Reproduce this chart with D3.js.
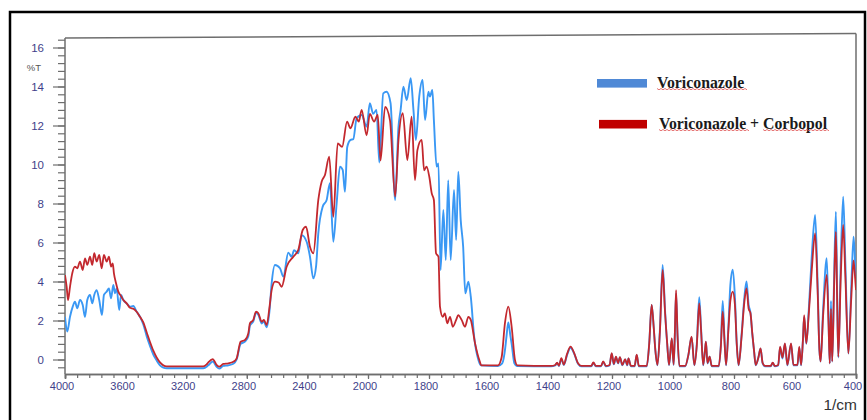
<!DOCTYPE html>
<html><head><meta charset="utf-8">
<script src="https://cdn.jsdelivr.net/npm/d3@7"></script>
<style>html,body{margin:0;padding:0;background:#fff;overflow:hidden}</style>
</head><body><svg id="c" width="867" height="420"></svg>
<script>
// ---- data ----
const seriesNames = ["Voriconazole", "Voriconazole + Corbopol"];
const xTickLabels = [4000,3600,3200,2800,2400,2000,1800,1600,1400,1200,1000,800,600,400];
const yTickLabels = [0,2,4,6,8,10,12,14,16];
const xAxisTitle = "1/cm";
const yAxisTitle = "%T";

// Voriconazole : [wavenumber, %T]
const voriconazole = [
[4000,2.19],[3985,1.43],[3967,2.19],[3949,2.71],[3934,2.96],[3919,2.63],[3901,3.05],[3883,2.79],
[3868,2.19],[3853,3.05],[3835,3.31],[3820,2.88],[3807,3.31],[3791,3.56],[3774,3.05],[3756,2.28],
[3743,3.31],[3725,3.48],[3710,3.65],[3696,3.14],[3681,3.82],[3670,3.39],[3659,3.65],[3642,2.54],
[3630,3.31],[3615,3.05],[3593,2.88],[3571,2.71],[3549,2.74],[3527,2.45],[3505,2.19],[3483,1.8],
[3461,1.2],[3439,0.7],[3417,0.25],[3395,-0.05],[3373,-0.3],[3351,-0.42],[3329,-0.45],[3200,-0.45],
[3087,-0.45],[3054,-0.3],[3025,-0.1],[2999,-0.38],[2982,-0.47],[2955,-0.33],[2922,-0.3],[2889,-0.22],
[2867,0.0],[2841,0.8],[2812,0.92],[2790,1.2],[2779,1.75],[2757,1.95],[2739,2.4],[2724,2.3],
[2702,1.85],[2687,1.95],[2669,1.65],[2650,2.5],[2636,3.9],[2614,4.85],[2581,4.68],[2559,4.25],
[2526,5.48],[2504,5.27],[2488,5.6],[2460,5.44],[2438,6.38],[2405,6.04],[2383,5.27],[2361,4.16],
[2343,4.76],[2328,6.47],[2299,7.84],[2273,8.18],[2251,9.04],[2229,6.04],[2207,8.0],[2185,9.89],
[2167,9.72],[2152,8.6],[2137,10.9],[2115,11.26],[2097,11.3],[2075,12.37],[2042,12.54],[2009,11.94],
[1994,13.14],[1983,12.6],[1972,12.8],[1963,10.1],[1950,13.65],[1939,13.73],[1926,13.14],[1911,8.18],
[1900,11.94],[1893,12.8],[1884,13.99],[1873,13.3],[1860,14.42],[1851,12.8],[1843,11.26],[1832,13.48],
[1821,14.33],[1813,12.28],[1802,13.73],[1797,13.48],[1789,13.82],[1784,12.28],[1775,9.89],[1769,10.06],
[1762,4.59],[1753,7.67],[1745,5.1],[1737,9.2],[1729,5.1],[1718,8.69],[1711,6.13],[1704,9.63],
[1696,7.15],[1688,5.78],[1681,3.39],[1671,3.99],[1663,3.22],[1652,1.17],[1638,-0.03],[1630,-0.3],
[1574,-0.33],[1560,-0.2],[1550,0.6],[1546,1.17],[1540,1.9],[1533,1.2],[1529,0.8],[1520,-0.2],[1512,-0.33],
[1400,-0.35],[1386,-0.3],[1380,-0.18],[1374,-0.33],[1366,0.02],[1358,-0.28],[1347,0.25],[1336,0.6],
[1324,0.3],[1312,-0.2],[1300,-0.35],[1268,-0.35],[1261,-0.18],[1253,-0.35],[1236,-0.35],[1229,-0.12],
[1220,-0.35],[1208,-0.3],[1201,0.3],[1194,-0.25],[1187,0.12],[1180,-0.2],[1174,0.1],[1166,-0.3],
[1157,0.0],[1150,-0.3],[1146,0.05],[1138,-0.35],[1126,-0.35],[1119,0.22],[1112,-0.35],[1086,-0.35],
[1078,0.8],[1070,2.8],[1063,1.6],[1058,0.5],[1051,-0.3],[1043,1.5],[1034,4.85],[1026,2.5],
[1023,1.68],[1019,0.8],[1013,-0.3],[1004,1.05],[998,-0.28],[994,1.2],[990,3.4],[985,1.2],
[979,-0.35],[960,-0.35],[950,0.2],[939,1.15],[930,-0.3],[922,0.8],[914,3.2],[908,1.6],
[901,-0.3],[895,0.5],[892,0.9],[887,-0.2],[880,0.15],[873,-0.35],[850,-0.35],[843,0.8],
[837,3.0],[831,1.0],[826,-0.3],[818,1.8],[812,3.8],[804,4.6],[797,3.2],[791,0.8],
[785,-0.3],[775,1.3],[767,3.0],[759,4.0],[752,2.8],[746,2.4],[740,1.3],[734,0.4],
[729,-0.3],[720,0.1],[713,0.55],[706,-0.2],[698,-0.35],[680,-0.35],[673,-0.18],[666,-0.35],
[655,-0.3],[649,0.6],[641,0.05],[633,0.8],[625,-0.3],[613,0.8],[605,-0.3],[592,-0.3],
[586,0.6],[580,-0.3],[574,1.0],[570,2.2],[563,0.8],[555,2.5],[545,5.3],[534,7.41],
[526,4.0],[520,0.5],[516,-0.1],[508,2.5],[496,5.19],[490,2.0],[486,-0.2],[482,3.0],
[478,-0.1],[472,4.0],[466,7.58],[462,3.5],[458,0.1],[450,5.0],[442,8.35],[435,5.0],
[425,0.3],[416,3.5],[408,6.3],[403,5.0],[400,4.1]
];

// Voriconazole + Corbopol : [wavenumber, %T]
const voriconazoleCorbopol = [
[4000,4.33],[3989,3.73],[3980,3.05],[3967,3.73],[3952,4.42],[3934,4.76],[3919,4.68],[3901,5.02],
[3883,4.59],[3868,5.19],[3853,4.85],[3835,5.27],[3820,4.85],[3807,5.45],[3791,5.02],[3774,5.36],
[3758,4.68],[3743,5.36],[3725,5.02],[3710,5.27],[3696,4.76],[3685,4.93],[3677,4.42],[3663,3.91],
[3648,3.48],[3630,3.25],[3615,3.05],[3593,2.88],[3571,2.65],[3549,2.6],[3527,2.45],[3505,2.19],
[3483,1.9],[3461,1.4],[3439,0.9],[3417,0.45],[3395,0.1],[3373,-0.15],[3351,-0.3],[3329,-0.35],
[3087,-0.35],[3065,-0.25],[3054,-0.15],[3025,0.02],[2999,-0.28],[2982,-0.37],[2955,-0.23],[2922,-0.2],
[2889,-0.12],[2867,0.06],[2841,0.91],[2812,1.0],[2790,1.34],[2779,1.86],[2757,2.03],[2739,2.45],
[2724,2.37],[2702,1.94],[2687,2.03],[2669,1.77],[2650,2.7],[2636,3.56],[2614,3.99],[2590,3.95],
[2570,3.73],[2537,4.76],[2493,5.27],[2460,5.62],[2431,6.64],[2409,6.81],[2383,5.78],[2361,5.44],
[2328,8.18],[2306,9.12],[2284,9.46],[2256,10.4],[2229,7.32],[2200,11.08],[2171,10.9],[2138,12.2],
[2116,11.86],[2083,12.45],[2061,12.2],[2042,12.8],[2009,11.5],[1994,12.6],[1980,12.2],[1968,12.54],
[1959,10.2],[1944,12.96],[1928,12.28],[1911,8.35],[1900,11.26],[1886,12.63],[1871,10.23],[1857,12.45],
[1846,9.2],[1838,10.74],[1824,11.26],[1816,9.7],[1808,9.89],[1799,9.37],[1791,8.52],[1784,8.18],
[1777,5.45],[1769,5.27],[1764,2.71],[1755,2.19],[1748,2.37],[1740,1.86],[1731,2.19],[1722,1.68],
[1711,2.03],[1704,2.28],[1693,2.03],[1682,1.68],[1671,2.19],[1663,2.03],[1649,0.83],[1635,-0.03],
[1628,-0.3],[1574,-0.3],[1562,0.1],[1551,1.86],[1540,2.71],[1529,1.68],[1518,-0.03],[1510,-0.3],
[1400,-0.33],[1386,-0.28],[1380,-0.16],[1374,-0.31],[1366,0.07],[1358,-0.26],[1347,0.3],[1336,0.66],
[1324,0.33],[1312,-0.18],[1300,-0.33],[1268,-0.33],[1261,-0.15],[1253,-0.33],[1236,-0.33],[1229,-0.1],
[1220,-0.33],[1208,-0.28],[1201,0.32],[1194,-0.22],[1187,0.14],[1180,-0.18],[1174,0.12],[1166,-0.28],
[1157,0.02],[1150,-0.28],[1146,0.06],[1138,-0.33],[1126,-0.33],[1119,0.25],[1112,-0.33],[1086,-0.33],
[1078,0.8],[1070,2.8],[1063,1.6],[1058,0.5],[1051,-0.28],[1043,1.4],[1034,4.6],[1026,2.4],
[1023,1.68],[1019,0.8],[1013,-0.28],[1004,1.1],[998,-0.26],[994,1.3],[990,3.56],[985,1.2],
[979,-0.33],[960,-0.33],[950,0.2],[939,1.17],[930,-0.28],[922,0.7],[914,2.88],[908,1.5],
[901,-0.28],[895,0.5],[892,0.91],[887,-0.18],[880,0.14],[873,-0.33],[850,-0.33],[843,0.7],
[837,2.45],[831,0.9],[826,-0.28],[818,1.6],[812,3.0],[804,3.48],[797,2.8],[791,0.8],
[785,-0.28],[775,1.2],[767,2.8],[759,3.64],[752,2.6],[746,2.37],[740,1.34],[734,0.4],
[729,-0.28],[720,0.1],[713,0.57],[706,-0.18],[698,-0.33],[680,-0.33],[673,-0.16],[666,-0.33],
[655,-0.28],[649,0.66],[641,0.1],[633,0.83],[625,-0.28],[613,0.83],[605,-0.28],[592,-0.28],
[586,0.66],[580,-0.28],[574,1.0],[570,2.28],[563,0.83],[555,2.3],[545,4.6],[534,6.47],
[526,3.6],[520,0.5],[516,-0.1],[508,2.2],[496,4.34],[490,1.8],[486,-0.2],[482,2.6],
[478,-0.1],[472,3.6],[466,6.55],[462,3.2],[458,0.14],[450,4.2],[442,6.9],[435,4.3],
[425,0.32],[416,3.0],[408,5.08],[403,4.2],[400,3.56]
];

// ---- drawing ----
const svg = d3.select("#c");
svg.append("rect").attr("width",867).attr("height",420).attr("fill","#fff");

// outer frame
svg.append("path").attr("d","M10,430 L10,12 L865,12 L865,430")
  .attr("fill","none").attr("stroke","#000").attr("stroke-width",2.5);

const x = d3.scaleLinear().domain([4000,2000,400]).range([65,368,856]);
const y = d3.scaleLinear().domain([0,16]).range([359.5,47.5]);
const yBottom = 374, xLeft = 65, xRight = 856;

const axisColor = "#6e6e6e", labelColor = "#3f3f8a";

// plot borders
svg.append("line").attr("x1",xLeft).attr("y1",38).attr("x2",xRight).attr("y2",33.5)
  .attr("stroke",axisColor).attr("stroke-width",1.5);
svg.append("line").attr("x1",xRight).attr("y1",33.5).attr("x2",xRight).attr("y2",yBottom)
  .attr("stroke",axisColor).attr("stroke-width",1.5);

// x axis
const xMinor = d3.range(4000,2000,-80).concat(d3.range(2000,399,-40));
const gxm = svg.append("g").attr("transform",`translate(0,${yBottom})`)
  .call(d3.axisBottom(x).tickValues(xMinor).tickSize(4).tickFormat(""));
const gx = svg.append("g").attr("transform",`translate(0,${yBottom})`)
  .call(d3.axisBottom(x).tickValues(xTickLabels).tickSize(5).tickPadding(3).tickFormat(d3.format("d")));
[gxm,gx].forEach(g=>{
  g.select(".domain").attr("stroke",axisColor).attr("stroke-width",1.5);
  g.selectAll(".tick line").attr("stroke",axisColor).attr("stroke-width",1.2);
});
gx.selectAll(".tick text").attr("fill",labelColor).attr("dx",-3.5)
  .style("font-family","'Liberation Sans', Arial, sans-serif").style("font-size","11px");

// y axis
const yMinor = d3.range(-0.4,16.5,0.4);
const gym = svg.append("g").attr("transform",`translate(${xLeft},0)`)
  .call(d3.axisLeft(y).tickValues(yMinor).tickSize(7).tickFormat(""));
const gy = svg.append("g").attr("transform",`translate(${xLeft},0)`)
  .call(d3.axisLeft(y).tickValues(yTickLabels).tickSize(12).tickPadding(9).tickFormat(d3.format("d")));
[gym,gy].forEach(g=>{
  g.select(".domain").remove();
  g.selectAll(".tick line").attr("stroke",axisColor).attr("stroke-width",1.2);
});
gy.selectAll(".tick text").attr("fill",labelColor)
  .style("font-family","'Liberation Sans', Arial, sans-serif").style("font-size","11.5px");
svg.append("line").attr("x1",xLeft).attr("x2",xLeft).attr("y1",38).attr("y2",yBottom)
  .attr("stroke",axisColor).attr("stroke-width",1.5);

// axis titles
svg.append("text").attr("x",41).attr("y",70.5).attr("text-anchor","end")
  .attr("fill","#555").style("font-family","'Liberation Sans', Arial, sans-serif")
  .style("font-size","9.5px").text(yAxisTitle);
svg.append("text").attr("x",857).attr("y",410).attr("text-anchor","end")
  .attr("fill","#333").style("font-family","'Liberation Sans', Arial, sans-serif")
  .style("font-size","15.5px").text(xAxisTitle);

// clip
svg.append("clipPath").attr("id","clip").append("rect")
  .attr("x",xLeft).attr("y",34).attr("width",xRight-xLeft).attr("height",yBottom-34);

const line = d3.line().x(d=>x(d[0])).y(d=>y(d[1])).curve(d3.curveMonotoneX);
const plot = svg.append("g").attr("clip-path","url(#clip)");
plot.append("path").datum(voriconazole).attr("d",line)
  .attr("fill","none").attr("stroke","#3a98f4").attr("stroke-width",1.9).attr("stroke-linejoin","round");
plot.append("path").datum(voriconazoleCorbopol).attr("d",line)
  .attr("fill","none").attr("stroke","#c3282e").attr("stroke-width",1.8).attr("stroke-linejoin","round");

// legend
const legendColors = ["#4f89d6","#c00000"];
const legendY = [83.3, 124.2];
const legendX0 = [597, 599];
const textX = [657, 659];
seriesNames.forEach((name,i)=>{
  svg.append("rect").attr("x",legendX0[i]).attr("y",legendY[i]-4.3)
    .attr("width",647-legendX0[i]).attr("height",8.6).attr("fill",legendColors[i]);
  svg.append("text").attr("x",textX[i]).attr("y",legendY[i]+4.5)
    .attr("fill","#1a1a1a").style("font-family","'Liberation Serif','Times New Roman',serif")
    .style("font-weight","bold").style("font-size","15.8px").text(name);
});
// spell-check wavy underlines
function wavy(x0,x1,yy){
  let d=`M${x0},${yy}`;
  for(let xx=x0+2,k=0; xx<=x1; xx+=2,k++) d+=` L${xx},${yy+(k%2===0?1.3:0)}`;
  svg.append("path").attr("d",d).attr("fill","none").attr("stroke","#e05050").attr("stroke-width",0.8);
}
wavy(657,748,88.5);
wavy(659,750,129.5);
wavy(763,830,129.5);
</script></body></html>
